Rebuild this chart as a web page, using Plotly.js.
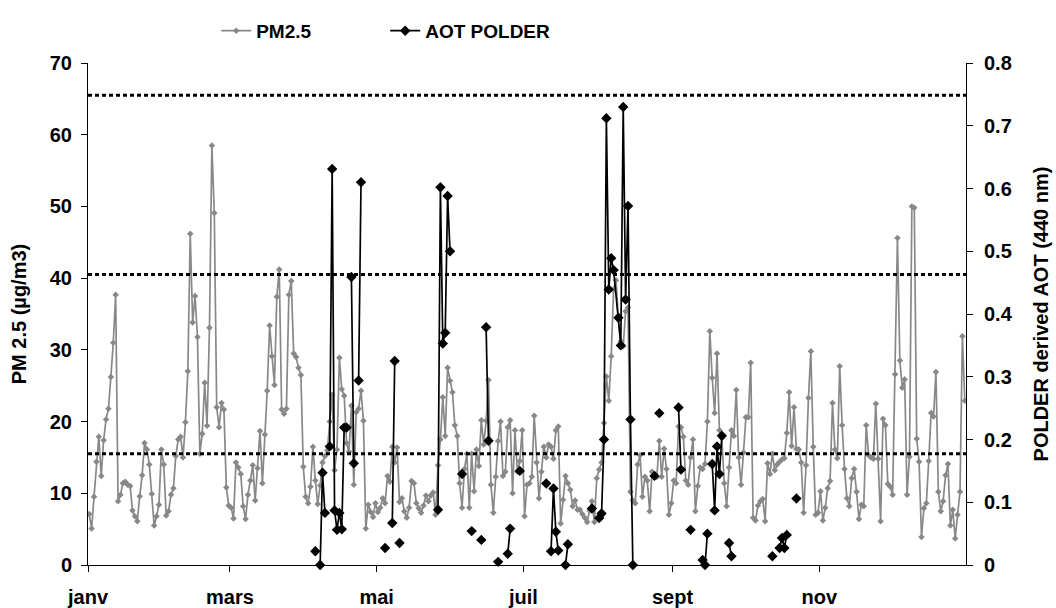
<!DOCTYPE html>
<html><head><meta charset="utf-8">
<script src="https://cdn.plot.ly/plotly-3.0.1.min.js"></script>
<style>html,body{margin:0;padding:0;background:#fff}#chart{width:1056px;height:608px}</style>
</head><body><div id="chart"></div>
<script>
// Daily PM2.5 (µg/m3), day 0 = 1 January
const pmValues = [
7.1,5.1,9.5,14.4,17.9,12.4,17.4,20.3,21.8,26.2,
31.0,37.7,8.9,9.8,11.4,11.6,11.2,11.0,7.6,6.8,
6.1,9.6,12.5,17.0,16.1,14.0,9.9,5.5,6.8,8.4,
16.1,14.0,6.9,7.5,9.8,10.7,15.2,17.5,17.9,15.0,
19.9,27.0,46.2,33.8,37.5,31.8,15.5,18.3,25.4,19.4,
33.1,58.5,49.1,22.0,19.2,22.6,21.7,10.8,8.3,8.0,
6.5,14.3,13.6,12.7,8.2,6.4,9.8,11.8,13.9,9.0,
13.5,18.7,11.4,18.2,24.3,33.4,29.1,25.1,37.4,41.2,
21.7,21.1,21.8,37.7,39.6,29.5,29.0,27.5,26.5,13.7,
9.5,8.6,10.9,16.5,11.8,8.5,11.1,14.3,15.2,16.0,
20.0,23.7,13.2,16.1,28.9,24.5,23.6,17.0,15.8,22.2,
11.2,21.3,21.8,24.3,20.1,5.1,8.4,7.4,6.7,8.6,
7.4,8.0,9.3,8.6,12.4,11.6,16.5,14.3,16.4,8.8,
9.3,7.5,6.6,8.0,11.7,11.4,8.6,7.9,7.3,8.3,
9.7,8.9,9.7,10.1,7.0,13.9,17.5,23.4,18.0,27.5,
25.7,24.1,19.5,18.0,11.4,8.0,13.4,15.5,8.0,15.5,
10.3,16.1,13.8,20.2,16.8,20.1,25.8,11.2,7.3,12.3,
17.3,20.0,12.4,13.0,19.2,20.2,10.0,18.8,13.0,14.5,
18.8,6.8,11.2,11.4,12.3,20.8,14.3,9.3,13.0,16.5,
15.0,16.8,16.5,14.8,18.8,19.3,5.8,9.1,12.4,11.4,
10.5,8.2,9.0,7.7,7.7,7.1,6.6,6.0,7.6,8.9,
6.0,12.1,13.3,14.3,19.8,26.3,22.9,29.1,38.4,39.7,
34.3,31.2,30.5,35.4,35.9,10.2,9.0,8.6,14.0,15.3,
9.5,12.3,11.8,7.5,13.0,12.6,12.3,17.3,12.3,16.2,
13.4,7.0,8.6,11.8,11.4,19.3,19.2,17.9,11.8,11.2,
15.0,17.5,7.5,11.0,13.6,13.4,14.1,20.0,32.6,26.1,
21.2,29.5,18.8,17.7,11.4,8.2,13.6,18.8,18.0,24.4,
15.0,11.2,15.7,20.6,20.6,28.2,6.6,6.2,8.3,8.9,
9.2,6.1,14.2,12.7,15.5,13.2,14.0,14.4,14.7,14.9,
18.4,24.1,16.6,22.0,16.2,16.1,14.3,7.3,13.9,23.3,
29.8,16.5,7.0,7.3,10.3,6.2,8.0,10.7,11.7,22.6,
16.1,14.9,27.7,19.5,13.4,9.3,8.2,12.1,13.4,10.2,
6.4,8.4,8.2,19.5,15.3,15.0,14.8,22.5,14.8,6.1,
20.4,19.5,11.3,10.9,9.8,26.6,45.6,28.5,24.7,25.9,
9.8,15.1,50.0,49.8,17.6,14.4,3.9,7.9,8.6,14.5,
21.2,20.7,26.9,10.2,7.5,8.9,12.5,14.1,5.5,7.7,
3.7,7.0,10.2,31.9,22.9
];

// POLDER AOT observations (day of year, value); null separates non-consecutive runs
const aotDays = [
94,null,96,97,98,null,100,101,102,103,104,105,106,107,null,109,110,null,112,113,null,
123,null,126,127,null,129,null,145,146,147,148,149,150,null,155,null,159,null,163,null,
165,166,null,170,null,174,175,null,179,null,190,null,192,193,194,195,null,198,199,null,
209,null,212,213,214,215,216,217,218,220,221,222,223,224,225,226,null,235,null,237,null,
245,246,null,250,null,255,256,257,null,259,260,261,262,263,null,266,267,null,284,null,
287,288,289,290,null,294
];
const aotValues = [
0.022,null,0.0,0.147,0.083,null,0.189,0.631,0.087,0.056,0.083,0.057,0.219,0.219,null,0.459,0.162,null,0.294,0.610,null,
0.027,null,0.067,0.325,null,0.035,null,0.088,0.602,0.353,0.370,0.588,0.500,null,0.145,null,0.054,null,0.040,null,
0.379,0.198,null,0.005,null,0.018,0.058,null,0.150,null,0.130,null,0.022,0.122,0.053,0.023,null,0.0,0.033,null,
0.090,null,0.075,0.082,0.200,0.712,0.439,0.489,0.470,0.394,0.350,0.730,0.423,0.572,0.232,0.0,null,0.142,null,0.242,null,
0.251,0.152,null,0.056,null,0.008,0.0,0.050,null,0.161,0.087,0.189,0.145,0.206,null,0.035,0.014,null,0.014,null,
0.027,0.043,0.027,0.048,null,0.106
];

const monthTickDays = [-0.5, 58.5, 119.5, 180.5, 242.5, 303.5];
const monthLabels = ['janv', 'mars', 'mai', 'juil', 'sept', 'nov'];
const thresholdLevels = [15.5, 40.5, 65.5];

const FONT = 'Liberation Sans, Arial, sans-serif';
const boldFont = (s) => ({family: FONT, size: s, color: '#000', weight: 'bold'});

const traces = [
  {
    type: 'scatter', mode: 'lines+markers', name: 'PM2.5',
    x0: 0, dx: 1, y: pmValues,
    line: {color: '#888888', width: 1.7},
    marker: {symbol: 'diamond', size: 5, color: '#888888'}
  },
  {
    type: 'scatter', mode: 'lines+markers', name: 'AOT POLDER',
    x: aotDays, y: aotValues, yaxis: 'y2', connectgaps: false, cliponaxis: false,
    line: {color: '#000', width: 1.7},
    marker: {symbol: 'diamond', size: 8, color: '#000'}
  }
];

const axisCommon = {
  showgrid: false, zeroline: false, showline: true, linecolor: '#000', linewidth: 1,
  ticks: 'outside', ticklen: 6, tickcolor: '#000', tickwidth: 1,
  tickfont: boldFont(20), fixedrange: true
};

const layout = {
  width: 1056, height: 608,
  margin: {l: 88, r: 90, t: 51, b: 43},
  paper_bgcolor: '#fff', plot_bgcolor: '#fff',
  font: {family: FONT, color: '#000'},
  showlegend: true,
  legend: {orientation: 'h', x: 0.146, y: 1.064, xanchor: 'left', yanchor: 'middle',
           font: boldFont(19), bgcolor: 'rgba(0,0,0,0)', entrywidth: 124, entrywidthmode: 'pixels'},
  xaxis: Object.assign({}, axisCommon, {
    range: [-0.5, 364.5], tickmode: 'array', tickvals: monthTickDays, ticktext: monthLabels,
    ticklabelstandoff: 8
  }),
  yaxis: Object.assign({}, axisCommon, {
    range: [0, 70], dtick: 10, ticklabelstandoff: 5,
    title: {text: 'PM 2.5 (µg/m3)', font: boldFont(20), standoff: 17}
  }),
  yaxis2: Object.assign({}, axisCommon, {
    overlaying: 'y', side: 'right', range: [0, 0.8], dtick: 0.1, ticklabelstandoff: 7,
    title: {text: 'POLDER derived AOT (440 nm)', font: boldFont(20), standoff: 22}
  }),
  shapes: thresholdLevels.map(v => ({
    type: 'line', xref: 'paper', x0: 0, x1: 1, yref: 'y', y0: v, y1: v, layer: 'above',
    line: {color: '#000', width: 3, dash: '4px,3px'}
  }))
};

Plotly.newPlot('chart', traces, layout, {displayModeBar: false, staticPlot: true});
</script></body></html>
